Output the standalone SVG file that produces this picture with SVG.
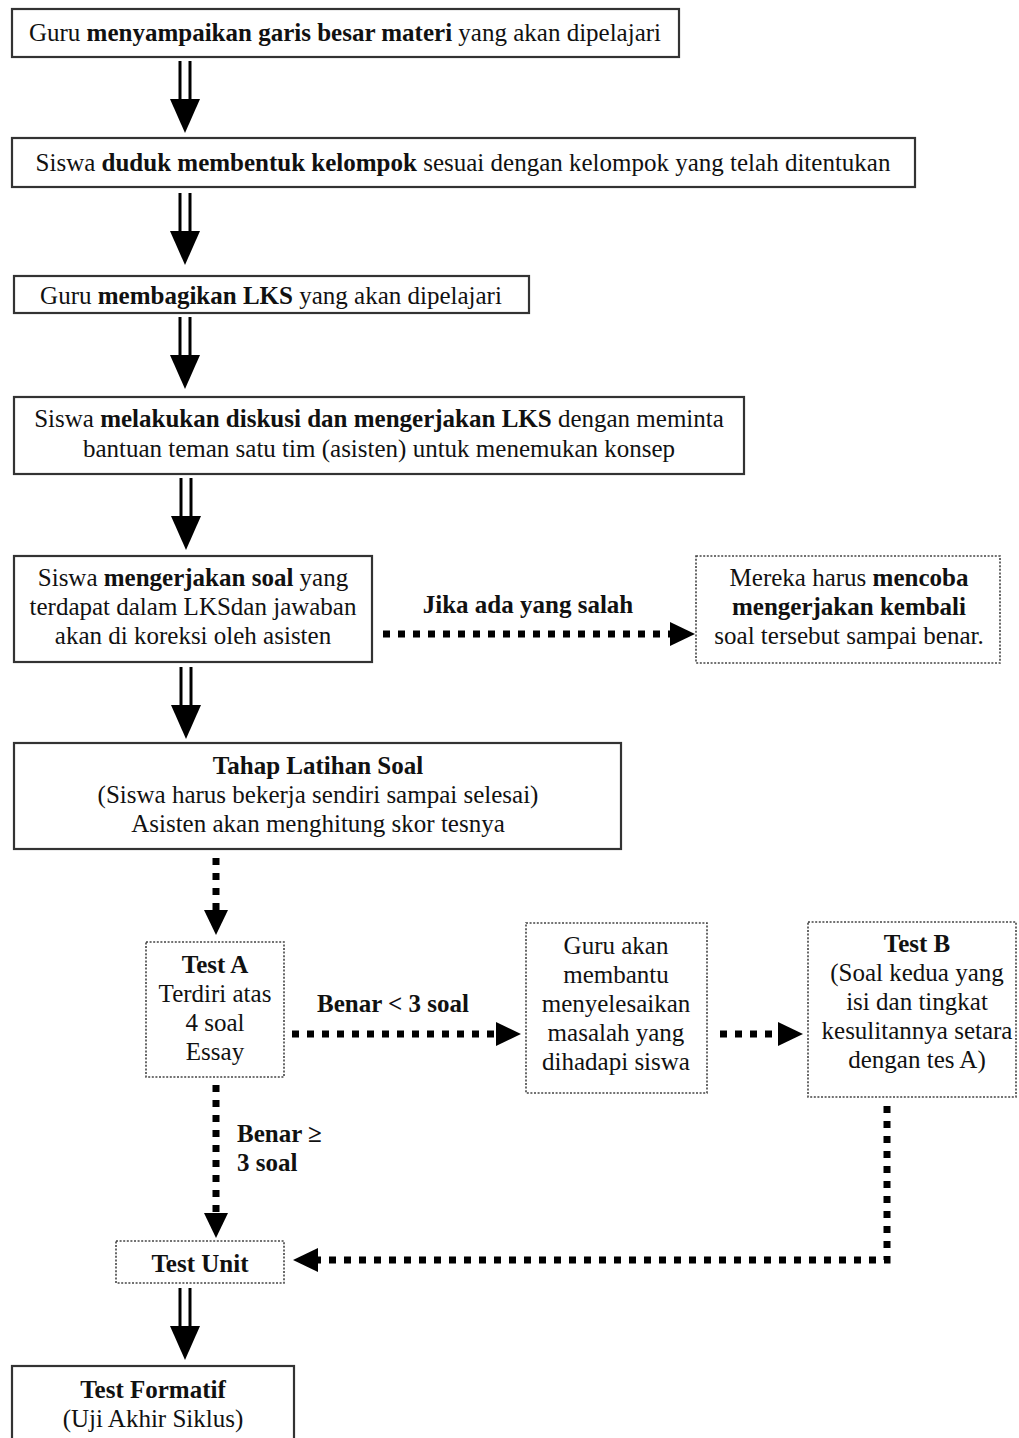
<svg xmlns="http://www.w3.org/2000/svg" xmlns:xlink="http://www.w3.org/1999/xlink" width="1019" height="1438" viewBox="0 0 1019 1438">
<style>
text{font-family:"Liberation Serif","Times New Roman",serif;font-size:25px;fill:#111;text-anchor:middle}
.b{font-weight:bold}
.l{text-anchor:start}
.box{fill:#fff;stroke:#333;stroke-width:2.2}
.dbox{fill:#fff;stroke:#444;stroke-width:1.6;stroke-dasharray:2 1.6}
.dot{fill:none;stroke:#000;stroke-width:7;stroke-dasharray:7 8}
</style>
<defs>
<marker id="tri" markerUnits="userSpaceOnUse" markerWidth="26" markerHeight="26" refX="0" refY="12" orient="auto">
<path d="M0,0 L25,12 L0,24 Z" fill="#000"/>
</marker>
<g id="dbl">
<line x1="-5" y1="0" x2="-5" y2="40" stroke="#000" stroke-width="3"/>
<line x1="5" y1="0" x2="5" y2="40" stroke="#000" stroke-width="3"/>
<path d="M-15,38 L15,38 L0,72 Z" fill="#000"/>
</g>
</defs>
<rect width="1019" height="1438" fill="#fff"/>

<g id="connectors">
<use xlink:href="#dbl" x="185" y="61"/>
<use xlink:href="#dbl" x="185" y="193"/>
<use xlink:href="#dbl" x="185" y="317"/>
<use xlink:href="#dbl" x="186" y="478"/>
<use xlink:href="#dbl" x="186" y="667"/>
<use xlink:href="#dbl" x="185" y="1288"/>
<line class="dot" x1="383" y1="634" x2="670" y2="634" marker-end="url(#tri)"/>
<line class="dot" x1="216" y1="858" x2="216" y2="910" marker-end="url(#tri)"/>
<line class="dot" x1="292" y1="1034" x2="496" y2="1034" marker-end="url(#tri)"/>
<line class="dot" x1="720" y1="1034" x2="778" y2="1034" marker-end="url(#tri)"/>
<polyline class="dot" points="887,1106 887,1260 318,1260" marker-end="url(#tri)"/>
<line class="dot" x1="216" y1="1085" x2="216" y2="1213" marker-end="url(#tri)"/>
<text class="b" x="528" y="613">Jika ada yang salah</text>
<text class="b" x="393" y="1012">Benar &lt; 3 soal</text>
<text class="b l" x="237" y="1142">Benar ≥</text>
<text class="b l" x="237" y="1171">3 soal</text>
</g>

<g id="n1">
<rect class="box" x="12" y="9" width="667" height="48"/>
<text x="345" y="41">Guru <tspan class="b">menyampaikan garis besar materi</tspan> yang akan dipelajari</text>
</g>
<g id="n2">
<rect class="box" x="12" y="138" width="903" height="49"/>
<text x="463" y="171">Siswa <tspan class="b">duduk membentuk kelompok</tspan> sesuai dengan kelompok yang telah ditentukan</text>
</g>
<g id="n3">
<rect class="box" x="14" y="276" width="515" height="37"/>
<text x="271" y="304">Guru <tspan class="b">membagikan LKS</tspan> yang akan dipelajari</text>
</g>
<g id="n4">
<rect class="box" x="14" y="397" width="730" height="77"/>
<text x="379" y="427">Siswa <tspan class="b">melakukan diskusi dan mengerjakan LKS</tspan> dengan meminta</text>
<text x="379" y="457">bantuan teman satu tim (asisten) untuk menemukan konsep</text>
</g>
<g id="n5">
<rect class="box" x="14" y="556" width="358" height="106"/>
<text x="193" y="586">Siswa <tspan class="b">mengerjakan soal</tspan> yang</text>
<text x="193" y="615">terdapat dalam LKSdan jawaban</text>
<text x="193" y="644">akan di koreksi oleh asisten</text>
</g>
<g id="n6">
<rect class="dbox" x="696" y="556" width="304" height="107"/>
<text x="849" y="586">Mereka harus <tspan class="b">mencoba</tspan></text>
<text class="b" x="849" y="615">mengerjakan kembali</text>
<text x="849" y="644">soal tersebut sampai benar.</text>
</g>
<g id="n7">
<rect class="box" x="14" y="743" width="607" height="106"/>
<text class="b" x="318" y="774">Tahap Latihan Soal</text>
<text x="318" y="803">(Siswa harus bekerja sendiri sampai selesai)</text>
<text x="318" y="832">Asisten akan menghitung skor tesnya</text>
</g>
<g id="n8">
<rect class="dbox" x="146" y="942" width="138" height="135"/>
<text class="b" x="215" y="973">Test A</text>
<text x="215" y="1002">Terdiri atas</text>
<text x="215" y="1031">4 soal</text>
<text x="215" y="1060">Essay</text>
</g>
<g id="n9">
<rect class="dbox" x="526" y="923" width="181" height="170"/>
<text x="616" y="954">Guru akan</text>
<text x="616" y="983">membantu</text>
<text x="616" y="1012">menyelesaikan</text>
<text x="616" y="1041">masalah yang</text>
<text x="616" y="1070">dihadapi siswa</text>
</g>
<g id="n10">
<rect class="dbox" x="808" y="922" width="208" height="175"/>
<text class="b" x="917" y="952">Test B</text>
<text x="917" y="981">(Soal kedua yang</text>
<text x="917" y="1010">isi dan tingkat</text>
<text x="917" y="1039">kesulitannya setara</text>
<text x="917" y="1068">dengan tes A)</text>
</g>
<g id="n11">
<rect class="dbox" x="116" y="1241" width="168" height="42"/>
<text class="b" x="200" y="1272">Test Unit</text>
</g>
<g id="n12">
<rect class="box" x="12" y="1366" width="282" height="90"/>
<text class="b" x="153" y="1398">Test Formatif</text>
<text x="153" y="1427">(Uji Akhir Siklus)</text>
</g>
</svg>
